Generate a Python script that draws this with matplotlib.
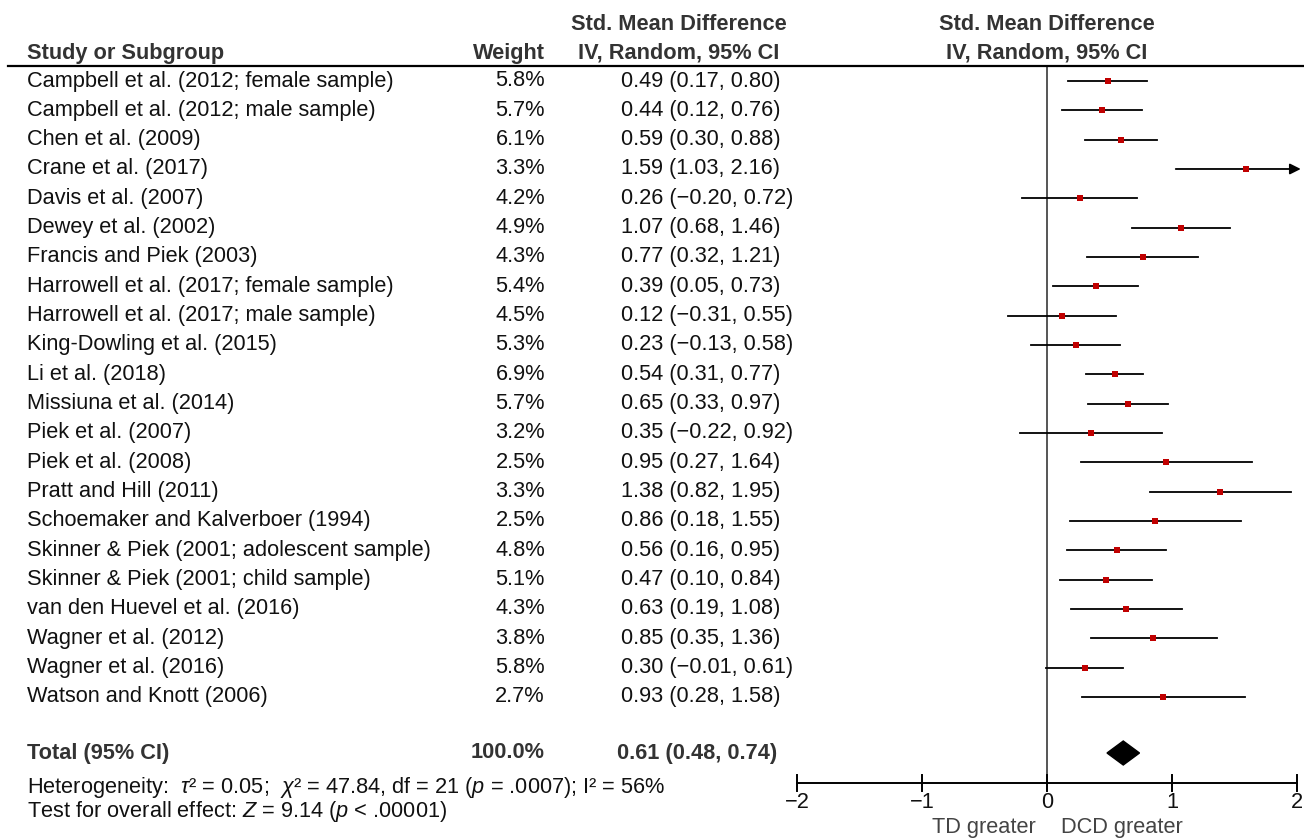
import matplotlib
matplotlib.use("Agg")
import matplotlib.pyplot as plt
from matplotlib.transforms import blended_transform_factory
import numpy as np

plt.rcParams['font.family'] = ['Liberation Sans', 'DejaVu Sans']
plt.rcParams['mathtext.fontset'] = 'custom'
plt.rcParams['mathtext.rm'] = 'Liberation Sans'
plt.rcParams['mathtext.it'] = 'Liberation Sans:italic'
plt.rcParams['mathtext.bf'] = 'Liberation Sans:bold'

studies = [
    "Campbell et al. (2012; female sample)",
    "Campbell et al. (2012; male sample)",
    "Chen et al. (2009)",
    "Crane et al. (2017)",
    "Davis et al. (2007)",
    "Dewey et al. (2002)",
    "Francis and Piek (2003)",
    "Harrowell et al. (2017; female sample)",
    "Harrowell et al. (2017; male sample)",
    "King-Dowling et al. (2015)",
    "Li et al. (2018)",
    "Missiuna et al. (2014)",
    "Piek et al. (2007)",
    "Piek et al. (2008)",
    "Pratt and Hill (2011)",
    "Schoemaker and Kalverboer (1994)",
    "Skinner & Piek (2001; adolescent sample)",
    "Skinner & Piek (2001; child sample)",
    "van den Huevel et al. (2016)",
    "Wagner et al. (2012)",
    "Wagner et al. (2016)",
    "Watson and Knott (2006)",
]
weights = [5.8, 5.7, 6.1, 3.3, 4.2, 4.9, 4.3, 5.4, 4.5, 5.3, 6.9, 5.7,
           3.2, 2.5, 3.3, 2.5, 4.8, 5.1, 4.3, 3.8, 5.8, 2.7]
smd = [0.49, 0.44, 0.59, 1.59, 0.26, 1.07, 0.77, 0.39, 0.12, 0.23, 0.54, 0.65,
       0.35, 0.95, 1.38, 0.86, 0.56, 0.47, 0.63, 0.85, 0.30, 0.93]
lower = [0.17, 0.12, 0.30, 1.03, -0.20, 0.68, 0.32, 0.05, -0.31, -0.13, 0.31, 0.33,
         -0.22, 0.27, 0.82, 0.18, 0.16, 0.10, 0.19, 0.35, -0.01, 0.28]
upper = [0.80, 0.76, 0.88, 2.16, 0.72, 1.46, 1.21, 0.73, 0.55, 0.58, 0.77, 0.97,
         0.92, 1.64, 1.95, 1.55, 0.95, 0.84, 1.08, 1.36, 0.61, 1.58]
total_smd, total_lo, total_hi = 0.61, 0.48, 0.74
total_weight = 100.0
xticks = [-2, -1, 0, 1, 2]
xlim = (-2, 2)

W, H = 1304, 839
fig = plt.figure(figsize=(W / 100, H / 100), dpi=100)

row0_px = 81.0
row_step = 29.33
def px_to_row(p):
    return (p - row0_px) / row_step

ax = fig.add_axes([797 / W, 0, 500 / W, 1])
ax.set_xlim(*xlim)
ax.set_ylim(px_to_row(H), px_to_row(0))
ax.axis('off')

tr = blended_transform_factory(fig.transFigure, ax.transData)
txt_color = '#111111'
hdr_color = '#333333'
fs = 15.7

def fx(px):
    return px / W

n = len(studies)
total_row = px_to_row(753)
axis_row = px_to_row(783)
left_px = 27
weight_px = 545
ci_px = 621

fig.add_artist(plt.Line2D([fx(8), fx(1304)], [1 - 66 / H, 1 - 66 / H], color='black', lw=1.6,
                          transform=fig.transFigure))
hdr_row2 = px_to_row(53)
hdr_row1 = px_to_row(24)
hkw = dict(transform=tr, fontsize=fs, fontweight='bold', color=hdr_color, va='center')
fig.text(fx(left_px), hdr_row2, "Study or Subgroup", ha='left', **hkw)
fig.text(fx(weight_px), hdr_row2, "Weight", ha='right', **hkw)
for cx in (679, 1047):
    fig.text(fx(cx), hdr_row1, "Std. Mean Difference", ha='center', **hkw)
    fig.text(fx(cx), hdr_row2, "IV, Random, 95% CI", ha='center', **hkw)

def fmt(v):
    return f"{v:.2f}".replace('-', '\u2212')

for i in range(n):
    fig.text(fx(left_px), i, studies[i], transform=tr, fontsize=fs, color=txt_color,
             va='center', ha='left')
    fig.text(fx(weight_px), i, f"{weights[i]:.1f}%", transform=tr, fontsize=fs, color=txt_color,
             va='center', ha='right')
    fig.text(fx(ci_px), i, f"{fmt(smd[i])} ({fmt(lower[i])}, {fmt(upper[i])})", transform=tr,
             fontsize=fs, color=txt_color, va='center', ha='left')

ax.plot([0, 0], [px_to_row(67), axis_row], color='#555555', lw=1.4, zorder=1)

for i in range(n):
    hi = upper[i]
    if hi > xlim[1]:
        ax.annotate('', xy=(xlim[1] + 0.03, i), xytext=(lower[i], i),
                    arrowprops=dict(arrowstyle='-|>', color='black', lw=1.3,
                                    mutation_scale=16, shrinkA=0, shrinkB=0),
                    annotation_clip=False)
    else:
        ax.plot([lower[i], hi], [i, i], color='black', lw=1.3, zorder=2)
    ax.plot(smd[i], i, marker='s', color='#c00000', markersize=4.8, zorder=3,
            markeredgewidth=0)

fig.text(fx(left_px), total_row, "Total (95% CI)", ha='left', **hkw)
fig.text(fx(weight_px), total_row, f"{total_weight:.1f}%", ha='right', **hkw)
fig.text(fx(617), total_row, f"{total_smd:.2f} ({total_lo:.2f}, {total_hi:.2f})", ha='left', **hkw)
dh = 12 / row_step
ax.fill([total_lo, total_smd, total_hi, total_smd],
        [total_row, total_row - dh, total_row, total_row + dh], color='black', zorder=3)

fig.text(fx(left_px), px_to_row(787),
         r"Heterogeneity:  $\mathit{τ}$² = 0.05;  $\mathit{χ}$² = 47.84, df = 21 ($\mathit{p}$ = .0007); I² = 56%",
         transform=tr, fontsize=fs, color=txt_color, va='center', ha='left')
fig.text(fx(left_px), px_to_row(812),
         r"Test for overall effect: $\mathit{Z}$ = 9.14 ($\mathit{p}$ < .00001)",
         transform=tr, fontsize=fs, color=txt_color, va='center', ha='left')

ax.plot([xlim[0], xlim[1]], [axis_row, axis_row], color='black', lw=1.4, clip_on=False)
tk = 8 / row_step
for t in xticks:
    ax.plot([t, t], [axis_row - tk, axis_row + tk], color='black', lw=1.4, clip_on=False)
    ax.text(t, px_to_row(803), f"{t}".replace('-', '\u2212'), fontsize=fs, color=txt_color,
            ha='center', va='center', clip_on=False)
ax.text(-0.09, px_to_row(828), "TD greater", fontsize=fs, color='#444444', ha='right', va='center')
ax.text(0.11, px_to_row(828), "DCD greater", fontsize=fs, color='#444444', ha='left', va='center')

fig.savefig("out.png", dpi=100, facecolor='white')
